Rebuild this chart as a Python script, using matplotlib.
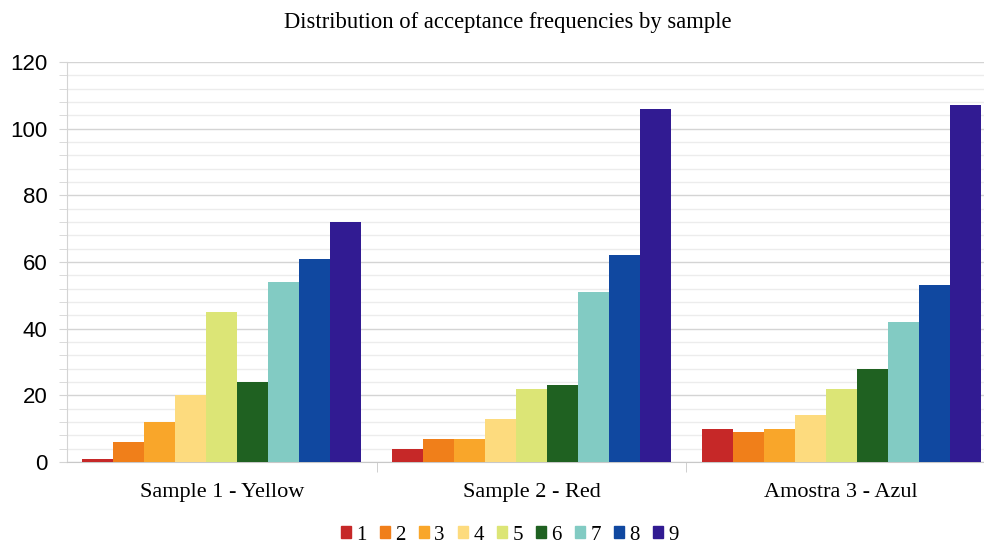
#! /usr/bin/env python3
# -*- coding: utf-8 -*-
"""
    grouped bar chart: acceptance frequencies per sample
"""
import numpy as np
import matplotlib
matplotlib.use("Agg")
import matplotlib.pyplot as plt
from matplotlib.patches import Patch
from matplotlib.ticker import MultipleLocator, FixedLocator

samples = ["Sample 1 - Yellow", "Sample 2 - Red", "Amostra 3 - Azul"]
scores = ["1", "2", "3", "4", "5", "6", "7", "8", "9"]
sample1 = [1, 6, 12, 20, 45, 24, 54, 61, 72]
sample2 = [4, 7, 7, 13, 22, 23, 51, 62, 106]
sample3 = [10, 9, 10, 14, 22, 28, 42, 53, 107]
colors = ["#c62828", "#f07f1a", "#f9a62a", "#fddb7e", "#dce576",
          "#1f6121", "#82cbc3", "#1048a0", "#311b92"]

if __name__ == "__main__":
    freq = np.array([sample1, sample2, sample3])
    fig = plt.figure(figsize=(9.84, 5.44), dpi=100)
    ax = fig.add_axes([67 / 984, 82 / 544, 929 / 984, 400 / 544])
    x = np.arange(len(samples))
    width = 0.1
    for i, sc in enumerate(scores):
        ax.bar(x + (i - 4) * width, freq[:, i], width, color=colors[i],
               label=sc, zorder=3)

    ax.set_xlim(-0.5, 2.5)
    ax.set_ylim(0, 120)
    ax.yaxis.set_major_locator(MultipleLocator(20))
    ax.yaxis.set_minor_locator(MultipleLocator(4))
    ax.grid(which="major", axis="y", color="#d4d4d4", lw=1.0, zorder=0)
    ax.grid(which="minor", axis="y", color="#ececec", lw=1.0, zorder=0)
    ax.tick_params(axis="y", which="both", length=6, color="#d4d4d4",
                   labelsize=16, pad=8)
    for lab in ax.get_yticklabels():
        lab.set_family("Liberation Sans")

    ax.set_xticks(x)
    ax.set_xticklabels(samples, family="Liberation Serif", fontsize=16)
    ax.xaxis.set_minor_locator(FixedLocator([0.5, 1.5]))
    ax.tick_params(axis="x", which="major", length=0, pad=15)
    ax.tick_params(axis="x", which="minor", length=7, color="#c8c8c8")

    for s in ("top", "right"):
        ax.spines[s].set_visible(False)
    ax.spines["left"].set_color("#d4d4d4")
    ax.spines["bottom"].set_color("#c8c8c8")

    fig.suptitle("Distribution of acceptance frequencies by sample",
                 family="Liberation Serif", fontsize=16.3, x=0.516, y=0.978,
                 va="top")

    handles = [Patch(color=c) for c in colors]
    fig.legend(handles, scores, loc="center", bbox_to_anchor=(0.518, 0.016),
               ncol=9, frameon=False, prop={"family": "Liberation Serif", "size": 15},
               handlelength=0.5, handleheight=0.5, handletextpad=0.25,
               columnspacing=0.62, borderpad=0)
    plt.savefig("out.png", dpi=100)
